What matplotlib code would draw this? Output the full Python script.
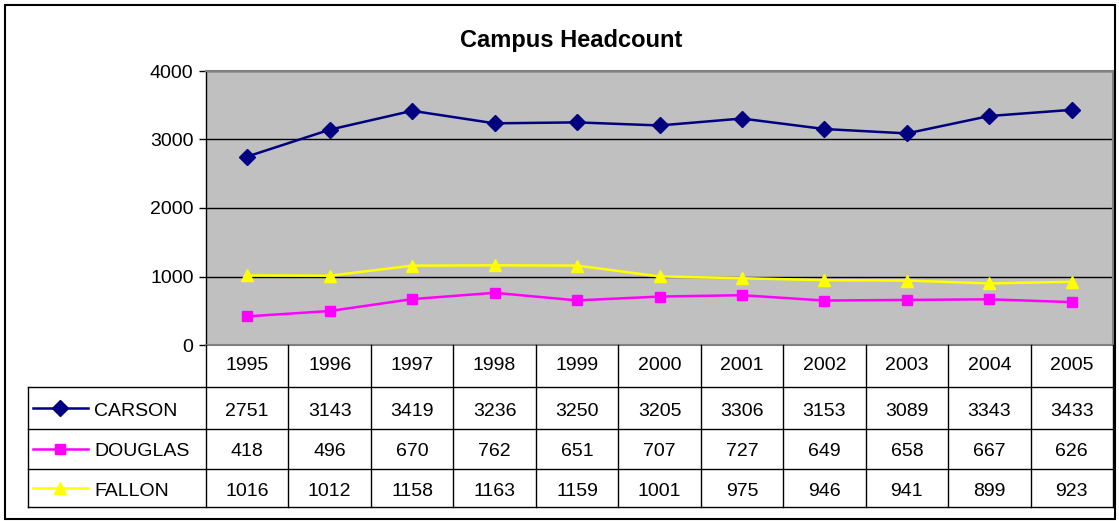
import matplotlib
matplotlib.use("Agg")
import matplotlib.pyplot as plt
from matplotlib.lines import Line2D
from matplotlib.patches import Rectangle

plt.rcParams['font.family'] = ['Liberation Sans', 'DejaVu Sans']

years = ['1995', '1996', '1997', '1998', '1999', '2000', '2001', '2002', '2003', '2004', '2005']
carson = [2751, 3143, 3419, 3236, 3250, 3205, 3306, 3153, 3089, 3343, 3433]
douglas = [418, 496, 670, 762, 651, 707, 727, 649, 658, 667, 626]
fallon = [1016, 1012, 1158, 1163, 1159, 1001, 975, 946, 941, 899, 923]

series = [
    ('CARSON', carson, '#000080', 'D', 8),
    ('DOUGLAS', douglas, '#FF00FF', 's', 7),
    ('FALLON', fallon, '#FFFF00', '^', 8.5),
]

FS = 14
W, H = 1119, 521
fig = plt.figure(figsize=(W / 100, H / 100), dpi=100)

def fx(x):
    return x / W

def fy(y):
    return 1 - y / H

# outer frame
fig.patches.append(Rectangle((fx(5), fy(519)), fx(1115) - fx(5), fy(5) - fy(519),
                             transform=fig.transFigure, fill=False,
                             edgecolor='black', lw=1.5))

L, R, T, B = 206, 1113, 71, 345
ax = fig.add_axes([fx(L), fy(B), fx(R) - fx(L), fy(T) - fy(B)])
ax.set_facecolor('#C0C0C0')
x = list(range(len(years)))
for name, vals, col, mk, ms in series:
    ax.plot(x, vals, color=col, lw=1.8, marker=mk, markersize=ms,
            markerfacecolor=col, markeredgecolor=col, zorder=3)
ax.set_xlim(-0.5, len(years) - 0.5)
ax.set_ylim(0, 4000)
ax.set_yticks([0, 1000, 2000, 3000, 4000])
ax.set_yticklabels(['0', '1000', '2000', '3000', '4000'], fontsize=FS)
ax.set_xticks([])
ax.yaxis.grid(True, color='black', lw=1)
ax.set_axisbelow(True)
ax.tick_params(axis='y', length=5, width=1, color='black', pad=4)
for s in ax.spines.values():
    s.set_color('#808080')
    s.set_linewidth(1.5)
ax.spines['left'].set_color('black')
ax.spines['left'].set_linewidth(1)

fig.text(fx(571), fy(38), 'Campus Headcount', ha='center', va='center_baseline',
         fontsize=17, fontweight='bold')

# data table
TB = 507
rows_y = [345, 387, 429, 469, 507]
tax = fig.add_axes([fx(L), fy(TB), fx(R) - fx(L), fy(B) - fy(TB)])
tax.set_xlim(-0.5, len(years) - 0.5)
tax.set_ylim(TB, B)
tax.axis('off')
colw = (R - L) / len(years)
xleft = -0.5 - (L - 28) / colw
lc = '#000000'
# vertical lines
for i in range(len(years) + 1):
    tax.add_line(Line2D([i - 0.5, i - 0.5], [345, 507], color=lc, lw=1, clip_on=False))
tax.add_line(Line2D([xleft, xleft], [387, 507], color=lc, lw=1, clip_on=False))
for yy in rows_y[1:]:
    tax.add_line(Line2D([xleft, len(years) - 0.5], [yy, yy], color=lc, lw=1, clip_on=False))

for i, yr in enumerate(years):
    tax.text(i, 364, yr, ha='center', va='center_baseline', fontsize=FS)

for r, (name, vals, col, mk, ms) in enumerate(series):
    yc = (rows_y[r + 1] + rows_y[r + 2]) / 2
    for i, v in enumerate(vals):
        tax.text(i, yc + 1, str(v), ha='center', va='center_baseline', fontsize=FS)
    x0 = xleft + (33 - 28) / colw
    x1 = xleft + (88 - 28) / colw
    xm = xleft + (60 - 28) / colw
    tax.add_line(Line2D([x0, x1], [yc, yc], color=col, lw=1.8, clip_on=False))
    tax.add_line(Line2D([xm], [yc], color=col, marker=mk, markersize=ms,
                        markerfacecolor=col, markeredgecolor=col, clip_on=False))
    tax.text(xleft + (94 - 28) / colw, yc + 1, name, ha='left', va='center_baseline', fontsize=FS)

fig.savefig('out.png', dpi=100)
